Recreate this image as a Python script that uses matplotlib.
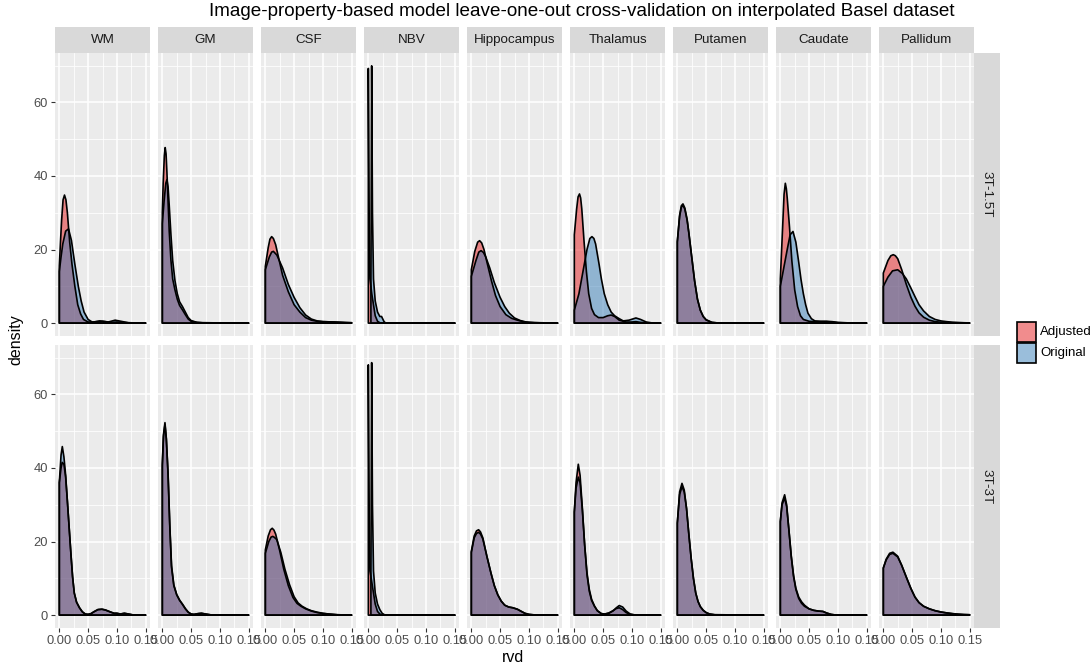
import matplotlib
matplotlib.use("Agg")
import matplotlib.pyplot as plt
from matplotlib.patches import Rectangle

plt.rcParams["font.family"] = ["Liberation Sans", "DejaVu Sans"]

# ---------------- data (density curves) ----------------
regions = ["WM", "GM", "CSF", "NBV", "Hippocampus", "Thalamus", "Putamen", "Caudate", "Pallidum"]
rows = ["3T-1.5T", "3T-3T"]
groups = ["Adjusted", "Original"]
x_ticks = [0.00, 0.05, 0.10, 0.15]
x_tick_labels = ["0.00", "0.05", "0.10", "0.15"]
y_ticks = [0, 20, 40, 60]

# row 3T-1.5T
wm_15_adj = [(0, 15.5), (0.002, 22), (0.004, 28), (0.0065, 33.5), (0.009, 34.8), (0.0115, 33.5), (0.014, 30), (0.018, 22), (0.022, 16), (0.027, 10), (0.032, 5), (0.037, 2.5), (0.042, 1), (0.05, 0.3), (0.06, 0.3), (0.07, 0.6), (0.08, 0.4), (0.09, 0.2), (0.1, 0.3), (0.12, 0.1), (0.14, 0.02), (0.15, 0)]
wm_15_orig = [(0, 14), (0.003, 18), (0.006, 21.5), (0.011, 25), (0.016, 25.6), (0.021, 22.5), (0.027, 16), (0.033, 10), (0.038, 6), (0.043, 3), (0.05, 1), (0.057, 0.3), (0.065, 0.4), (0.075, 0.5), (0.085, 0.3), (0.097, 0.8), (0.107, 0.5), (0.12, 0.1), (0.15, 0)]
gm_15_adj = [(0, 30), (0.0015, 38), (0.0035, 45.5), (0.005, 47.7), (0.0065, 46), (0.008, 41), (0.01, 33), (0.012, 25), (0.015, 17), (0.018, 12), (0.022, 9), (0.026, 6.5), (0.03, 4.8), (0.035, 3.6), (0.04, 2.3), (0.045, 1.1), (0.05, 0.5), (0.06, 0.2), (0.07, 0.1), (0.15, 0)]
gm_15_orig = [(0, 27), (0.003, 33), (0.006, 38), (0.008, 39), (0.01, 37), (0.012, 32), (0.015, 24), (0.018, 17), (0.022, 11.5), (0.026, 8), (0.03, 5.8), (0.035, 4.5), (0.04, 3), (0.045, 1.5), (0.05, 0.7), (0.06, 0.2), (0.07, 0.1), (0.15, 0)]
csf_15_adj = [(0, 15.4), (0.005, 20.5), (0.008, 22.8), (0.011, 23.5), (0.014, 23), (0.018, 21.3), (0.022, 18.5), (0.03, 13), (0.04, 8.5), (0.05, 5), (0.06, 3), (0.07, 1.5), (0.08, 0.8), (0.09, 0.5), (0.1, 0.4), (0.12, 0.3), (0.14, 0.15), (0.15, 0.1)]
csf_15_orig = [(0, 14.5), (0.007, 18), (0.011, 19.3), (0.014, 19.5), (0.02, 18.5), (0.03, 15), (0.04, 10.5), (0.05, 7), (0.06, 4.2), (0.07, 2.2), (0.08, 1.1), (0.09, 0.6), (0.1, 0.4), (0.12, 0.3), (0.14, 0.15), (0.15, 0.1)]
nbv_15_adj = [(0, 69.2), (0.0012, 30), (0.003, 12), (0.006, 8), (0.009, 5), (0.012, 2), (0.016, 0.5), (0.02, 0.1), (0.025, 0), (0.15, 0)]
nbv_15_orig = [(0.0045, 10), (0.0058, 69.9), (0.0072, 30), (0.009, 12), (0.012, 6), (0.016, 3), (0.02, 1.8), (0.023, 1.8), (0.027, 0.5), (0.03, 0), (0.15, 0)]
hip_15_adj = [(0, 14.5), (0.006, 19.5), (0.011, 22), (0.0144, 22.4), (0.018, 21.8), (0.022, 20), (0.028, 16), (0.035, 11.5), (0.042, 7.5), (0.05, 4.5), (0.06, 2.3), (0.07, 1.3), (0.08, 0.8), (0.09, 0.4), (0.1, 0.2), (0.12, 0.1), (0.15, 0)]
hip_15_orig = [(0, 12.7), (0.008, 17), (0.013, 19.3), (0.017, 19.7), (0.021, 19.2), (0.025, 18), (0.032, 15), (0.04, 11), (0.05, 7), (0.058, 4.5), (0.066, 2.7), (0.075, 1.4), (0.085, 0.7), (0.095, 0.3), (0.11, 0.1), (0.15, 0)]
tha_15_adj = [(0, 24), (0.004, 31), (0.0065, 34.3), (0.009, 35.1), (0.011, 34), (0.013, 31), (0.017, 22), (0.021, 14), (0.025, 8), (0.03, 4), (0.035, 2.3), (0.042, 1.5), (0.05, 1.5), (0.058, 2.0), (0.064, 2.2), (0.07, 1.8), (0.078, 0.8), (0.09, 0.3), (0.1, 0.3), (0.107, 0.4), (0.115, 0.2), (0.13, 0.05), (0.15, 0)]
tha_15_orig = [(0, 3.5), (0.008, 8), (0.015, 14), (0.022, 20), (0.027, 23), (0.0306, 23.5), (0.034, 23), (0.037, 21.5), (0.043, 16), (0.047, 12), (0.052, 8), (0.058, 5), (0.064, 3), (0.07, 2), (0.078, 1.2), (0.085, 0.6), (0.095, 0.8), (0.107, 1.4), (0.115, 1.0), (0.125, 0.3), (0.135, 0.05), (0.15, 0)]
put_15_adj = [(0, 22), (0.004, 29), (0.007, 31.5), (0.0098, 32.0), (0.013, 31), (0.017, 28), (0.02, 24.5), (0.025, 18), (0.03, 11.5), (0.035, 6.5), (0.04, 3.5), (0.045, 1.8), (0.05, 0.9), (0.06, 0.2), (0.07, 0.05), (0.15, 0)]
put_15_orig = [(0, 22.2), (0.004, 29.3), (0.007, 31.9), (0.0098, 32.4), (0.013, 31.3), (0.017, 28.2), (0.02, 24.6), (0.025, 18), (0.03, 11.5), (0.035, 6.5), (0.04, 3.5), (0.045, 1.8), (0.05, 0.9), (0.06, 0.2), (0.07, 0.05), (0.15, 0)]
cau_15_adj = [(0, 12), (0.004, 26), (0.0065, 35), (0.0087, 38), (0.0105, 36.5), (0.012, 34), (0.016, 26), (0.02, 17), (0.025, 9), (0.03, 4.5), (0.035, 2), (0.04, 1), (0.05, 0.5), (0.06, 0.4), (0.07, 0.4), (0.08, 0.4), (0.09, 0.3), (0.1, 0.1), (0.12, 0.05), (0.15, 0)]
cau_15_orig = [(0, 10), (0.006, 15), (0.012, 20), (0.017, 24), (0.022, 24.9), (0.027, 22), (0.032, 16.5), (0.036, 11.8), (0.04, 8), (0.044, 5), (0.048, 2.7), (0.054, 1.2), (0.06, 0.6), (0.07, 0.5), (0.08, 0.5), (0.09, 0.4), (0.1, 0.2), (0.12, 0.05), (0.15, 0)]
pal_15_adj = [(0, 13.6), (0.008, 17), (0.013, 18.3), (0.0173, 18.6), (0.021, 18.3), (0.025, 17.5), (0.032, 14.5), (0.04, 10.5), (0.048, 7.0), (0.055, 4.6), (0.062, 2.8), (0.07, 1.6), (0.08, 0.8), (0.09, 0.4), (0.1, 0.25), (0.12, 0.1), (0.14, 0.05), (0.15, 0)]
pal_15_orig = [(0, 10), (0.008, 12.5), (0.016, 14.2), (0.025, 14.5), (0.033, 13.5), (0.04, 12), (0.048, 9.5), (0.055, 7.2), (0.062, 5.0), (0.07, 3.3), (0.08, 1.8), (0.09, 1.0), (0.1, 0.6), (0.11, 0.4), (0.12, 0.25), (0.14, 0.1), (0.15, 0.05)]

# row 3T-3T
wm_3_adj = [(0, 36), (0.003, 40), (0.005, 41.5), (0.008, 41), (0.011, 37.5), (0.014, 31), (0.017, 24), (0.02, 17), (0.023, 10.5), (0.026, 6), (0.03, 3.5), (0.035, 2), (0.04, 0.9), (0.045, 0.3), (0.05, 0.2), (0.055, 0.4), (0.06, 0.9), (0.067, 1.5), (0.074, 1.6), (0.08, 1.4), (0.088, 0.9), (0.095, 0.5), (0.1, 0.5), (0.106, 0.3), (0.113, 0.5), (0.12, 0.3), (0.128, 0.05), (0.15, 0)]
wm_3_orig = [(0, 36), (0.003, 43.5), (0.0052, 45.8), (0.008, 43), (0.011, 38), (0.014, 31), (0.017, 24), (0.02, 17), (0.023, 10.5), (0.026, 6), (0.03, 3.5), (0.035, 2), (0.04, 0.9), (0.045, 0.3), (0.05, 0.2), (0.055, 0.4), (0.06, 0.9), (0.067, 1.5), (0.074, 1.6), (0.08, 1.4), (0.088, 0.9), (0.095, 0.5), (0.1, 0.5), (0.106, 0.3), (0.113, 0.5), (0.12, 0.3), (0.128, 0.05), (0.15, 0)]
gm_3_adj = [(0, 41), (0.002, 49), (0.0046, 52.3), (0.007, 48), (0.01, 38), (0.013, 24), (0.016, 13), (0.02, 8), (0.025, 5.5), (0.03, 4), (0.035, 3), (0.04, 1.8), (0.045, 0.8), (0.05, 0.3), (0.055, 0.2), (0.062, 0.4), (0.068, 0.5), (0.075, 0.3), (0.085, 0.05), (0.15, 0)]
gm_3_orig = [(0, 40.5), (0.002, 48.5), (0.0046, 51.8), (0.007, 47.8), (0.01, 38.5), (0.013, 24.5), (0.016, 13.5), (0.02, 8.2), (0.025, 5.6), (0.03, 4.1), (0.035, 2.9), (0.04, 1.7), (0.045, 0.8), (0.05, 0.3), (0.055, 0.2), (0.062, 0.4), (0.068, 0.5), (0.075, 0.3), (0.085, 0.05), (0.15, 0)]
csf_3_adj = [(0, 17.7), (0.005, 21.5), (0.009, 23.2), (0.012, 23.6), (0.015, 23.1), (0.018, 22), (0.025, 17.5), (0.032, 12.5), (0.04, 8), (0.048, 4.8), (0.055, 3.2), (0.062, 2.4), (0.07, 1.7), (0.08, 1.1), (0.09, 0.7), (0.1, 0.45), (0.11, 0.3), (0.125, 0.1), (0.15, 0)]
csf_3_orig = [(0, 16.8), (0.006, 20), (0.01, 21.2), (0.013, 21.4), (0.016, 21.1), (0.02, 20.5), (0.027, 17), (0.034, 12.5), (0.042, 8.3), (0.05, 5.0), (0.057, 3.3), (0.064, 2.4), (0.072, 1.7), (0.08, 1.2), (0.09, 0.8), (0.1, 0.5), (0.11, 0.3), (0.125, 0.1), (0.15, 0)]
nbv_3_adj = [(0, 68.0), (0.0012, 30), (0.003, 12), (0.006, 9), (0.009, 6), (0.012, 3), (0.016, 1), (0.02, 0.3), (0.025, 0), (0.15, 0)]
nbv_3_orig = [(0.0045, 10), (0.0058, 68.6), (0.0072, 30), (0.009, 12), (0.012, 6), (0.016, 3), (0.02, 1.5), (0.024, 0.5), (0.028, 0.1), (0.032, 0), (0.15, 0)]
hip_3_adj = [(0, 17.3), (0.005, 21.5), (0.009, 22.9), (0.0127, 23.2), (0.016, 22.6), (0.02, 21), (0.027, 16), (0.034, 11.5), (0.04, 8), (0.046, 5.5), (0.052, 3.8), (0.058, 2.7), (0.065, 2.2), (0.072, 2.0), (0.08, 1.6), (0.087, 1.0), (0.093, 0.5), (0.1, 0.2), (0.11, 0.05), (0.15, 0)]
hip_3_orig = [(0, 17.0), (0.005, 21), (0.009, 22.2), (0.0127, 22.5), (0.016, 22.0), (0.02, 20.7), (0.027, 16), (0.034, 11.5), (0.04, 8), (0.046, 5.5), (0.052, 3.8), (0.058, 2.7), (0.065, 2.2), (0.072, 2.0), (0.08, 1.6), (0.087, 1.0), (0.093, 0.5), (0.1, 0.2), (0.11, 0.05), (0.15, 0)]
tha_3_adj = [(0, 28), (0.003, 36), (0.0069, 41), (0.01, 38), (0.014, 29), (0.018, 19), (0.022, 11), (0.026, 6.5), (0.03, 4), (0.035, 2.4), (0.04, 1.2), (0.047, 0.4), (0.053, 0.3), (0.06, 0.6), (0.067, 1.2), (0.073, 1.8), (0.078, 2.0), (0.084, 1.5), (0.09, 0.7), (0.097, 0.2), (0.105, 0.05), (0.15, 0)]
tha_3_orig = [(0, 28), (0.003, 34.5), (0.0069, 37.5), (0.01, 36), (0.014, 28.5), (0.018, 19), (0.022, 11.5), (0.026, 7), (0.03, 4.3), (0.035, 2.5), (0.04, 1.2), (0.047, 0.4), (0.053, 0.3), (0.06, 0.5), (0.067, 1.1), (0.073, 2.0), (0.078, 2.6), (0.084, 2.2), (0.09, 1.1), (0.097, 0.3), (0.105, 0.05), (0.15, 0)]
put_3_adj = [(0, 25), (0.004, 32.8), (0.0081, 34.9), (0.012, 33.5), (0.016, 29), (0.02, 22), (0.024, 15.5), (0.028, 10), (0.032, 6), (0.036, 3.7), (0.04, 2.3), (0.045, 1.3), (0.05, 0.7), (0.056, 0.3), (0.065, 0.1), (0.15, 0)]
put_3_orig = [(0, 25), (0.004, 33.5), (0.0081, 35.8), (0.012, 34), (0.016, 29), (0.02, 22), (0.024, 15.5), (0.028, 10), (0.032, 6), (0.036, 3.7), (0.04, 2.3), (0.045, 1.3), (0.05, 0.7), (0.056, 0.3), (0.065, 0.1), (0.15, 0)]
cau_3_adj = [(0, 25.4), (0.003, 30), (0.0075, 31.8), (0.011, 29.5), (0.015, 23), (0.019, 16), (0.023, 10.8), (0.027, 7.3), (0.032, 4.9), (0.037, 3.6), (0.042, 2.7), (0.05, 1.7), (0.058, 1.3), (0.066, 1.1), (0.074, 1.0), (0.08, 0.6), (0.088, 0.2), (0.095, 0.05), (0.15, 0)]
cau_3_orig = [(0, 25.4), (0.003, 30.5), (0.0075, 32.7), (0.011, 30), (0.015, 23), (0.019, 16), (0.023, 10.5), (0.027, 7), (0.032, 4.5), (0.037, 3.2), (0.042, 2.4), (0.05, 1.7), (0.058, 1.3), (0.066, 1.1), (0.074, 1.0), (0.08, 0.6), (0.088, 0.2), (0.095, 0.05), (0.15, 0)]
pal_3_adj = [(0, 12.8), (0.005, 15), (0.011, 16.5), (0.0167, 16.8), (0.025, 15.8), (0.032, 13.5), (0.04, 10.3), (0.048, 7.2), (0.055, 4.9), (0.062, 3.4), (0.07, 2.4), (0.08, 1.7), (0.09, 1.2), (0.1, 0.85), (0.11, 0.6), (0.12, 0.4), (0.13, 0.25), (0.14, 0.15), (0.15, 0.1)]
pal_3_orig = [(0, 12.8), (0.005, 15.2), (0.011, 16.8), (0.0167, 17.1), (0.025, 16), (0.032, 13.5), (0.04, 10.3), (0.048, 7.2), (0.055, 4.9), (0.062, 3.4), (0.07, 2.4), (0.08, 1.7), (0.09, 1.2), (0.1, 0.85), (0.11, 0.6), (0.12, 0.4), (0.13, 0.25), (0.14, 0.15), (0.15, 0.1)]

curves = {
    ("3T-1.5T", "WM"): (wm_15_adj, wm_15_orig),
    ("3T-1.5T", "GM"): (gm_15_adj, gm_15_orig),
    ("3T-1.5T", "CSF"): (csf_15_adj, csf_15_orig),
    ("3T-1.5T", "NBV"): (nbv_15_adj, nbv_15_orig),
    ("3T-1.5T", "Hippocampus"): (hip_15_adj, hip_15_orig),
    ("3T-1.5T", "Thalamus"): (tha_15_adj, tha_15_orig),
    ("3T-1.5T", "Putamen"): (put_15_adj, put_15_orig),
    ("3T-1.5T", "Caudate"): (cau_15_adj, cau_15_orig),
    ("3T-1.5T", "Pallidum"): (pal_15_adj, pal_15_orig),
    ("3T-3T", "WM"): (wm_3_adj, wm_3_orig),
    ("3T-3T", "GM"): (gm_3_adj, gm_3_orig),
    ("3T-3T", "CSF"): (csf_3_adj, csf_3_orig),
    ("3T-3T", "NBV"): (nbv_3_adj, nbv_3_orig),
    ("3T-3T", "Hippocampus"): (hip_3_adj, hip_3_orig),
    ("3T-3T", "Thalamus"): (tha_3_adj, tha_3_orig),
    ("3T-3T", "Putamen"): (put_3_adj, put_3_orig),
    ("3T-3T", "Caudate"): (cau_3_adj, cau_3_orig),
    ("3T-3T", "Pallidum"): (pal_3_adj, pal_3_orig),
}

# ---------------- style ----------------
W, H = 1090, 668
fill_colors = {"Adjusted": "#E41A1C", "Original": "#377EB8"}
ALPHA = 0.5
PANEL_BG = "#EBEBEB"
STRIP_BG = "#D9D9D9"
TICK_COL = "#4D4D4D"

fig = plt.figure(figsize=(W / 100, H / 100), dpi=100)


def box(x0, y0, x1, y1):
    return [x0 / W, 1 - y1 / H, (x1 - x0) / W, (y1 - y0) / H]


panel_left0 = 55
panel_w = 95
panel_step = 103
row_tops = [53, 345]
panel_h = 283
strip_h = 26

for r, row in enumerate(rows):
    y0 = row_tops[r]
    for c, reg in enumerate(regions):
        x0 = panel_left0 + c * panel_step
        ax = fig.add_axes(box(x0, y0, x0 + panel_w, y0 + panel_h))
        ax.set_facecolor(PANEL_BG)
        for s in ax.spines.values():
            s.set_visible(False)
        ax.set_xlim(-0.0075, 0.1575)
        ax.set_ylim(-3.5, 73.4)
        ax.set_xticks(x_ticks)
        ax.set_xticks([0.025, 0.075, 0.125], minor=True)
        ax.set_yticks(y_ticks)
        ax.set_yticks([10, 30, 50, 70], minor=True)
        ax.grid(True, which="major", color="white", lw=1.1)
        ax.grid(True, which="minor", color="white", lw=0.55)
        ax.set_axisbelow(True)
        ax.tick_params(which="minor", length=0)
        ax.tick_params(which="major", length=3, width=0.8, color="#333333",
                       labelsize=9.3, labelcolor=TICK_COL, pad=2)
        if c == 0:
            ax.set_yticklabels([str(v) for v in y_ticks])
        else:
            ax.tick_params(axis="y", which="major", length=0, labelleft=False)
        if r == len(rows) - 1:
            ax.set_xticklabels(x_tick_labels)
        else:
            ax.tick_params(axis="x", which="major", length=0, labelbottom=False)

        for g, pts in zip(groups, curves[(row, reg)]):
            xs = [p[0] for p in pts]
            ys = [p[1] for p in pts]
            px = [xs[0]] + xs + [xs[-1]]
            py = [0] + ys + [0]
            ax.fill(px, py, facecolor=fill_colors[g], alpha=ALPHA, edgecolor="none", zorder=2)
            ax.fill(px, py, facecolor="none", edgecolor="black", lw=1.2, zorder=3,
                    joinstyle="round")

        # top strip
        if r == 0:
            sax = fig.add_axes(box(x0, y0 - strip_h, x0 + panel_w, y0))
            sax.set_facecolor(STRIP_BG)
            sax.set_xticks([]); sax.set_yticks([])
            for s in sax.spines.values():
                s.set_visible(False)
            sax.text(0.5, 0.5, reg, ha="center", va="center", fontsize=9.6,
                     color="#1A1A1A", transform=sax.transAxes)

    # right strip
    xr = panel_left0 + 8 * panel_step + panel_w
    rax = fig.add_axes(box(xr, y0, xr + 26, y0 + panel_h))
    rax.set_facecolor(STRIP_BG)
    rax.set_xticks([]); rax.set_yticks([])
    for s in rax.spines.values():
        s.set_visible(False)
    rax.text(0.5, 0.5, row, ha="center", va="center", rotation=-90, fontsize=9.6,
             color="#1A1A1A", transform=rax.transAxes)

# titles
fig.text(582 / W, 1 - 11 / H, "Image-property-based model leave-one-out cross-validation on interpolated Basel dataset",
         ha="center", va="center", fontsize=13.6, color="black")
fig.text(513 / W, 1 - 657 / H, "rvd", ha="center", va="center", fontsize=11.5)
fig.text(16 / W, 1 - 340 / H, "density", ha="center", va="center", rotation=90, fontsize=11.5)

# legend
for i, g in enumerate(groups):
    ky = 322 + i * 21
    fig.add_artist(Rectangle((1017 / W, 1 - (ky + 20) / H), 19 / W, 20 / H,
                             transform=fig.transFigure, facecolor=fill_colors[g],
                             alpha=ALPHA, edgecolor="none"))
    fig.add_artist(Rectangle((1017 / W, 1 - (ky + 20) / H), 19 / W, 20 / H,
                             transform=fig.transFigure, facecolor="none",
                             edgecolor="black", lw=1.2))
    fig.text(1040 / W, 1 - (ky + 10) / H, g, ha="left", va="center", fontsize=9.5)

fig.savefig("out.png", dpi=100)
